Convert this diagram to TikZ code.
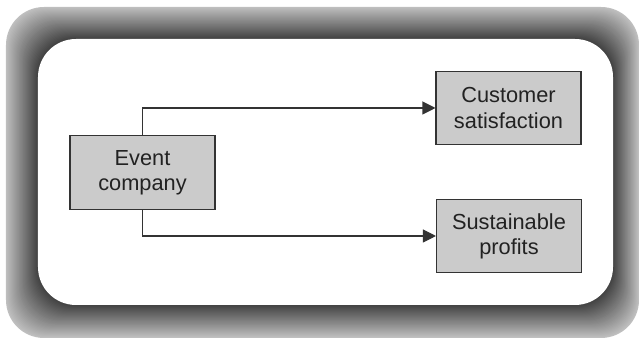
\documentclass[tikz,border=0pt]{standalone}
\usepackage{fontspec}
\setmainfont{Liberation Sans}
\usepackage{xcolor}
\usepackage{tikz}
\usetikzlibrary{positioning, arrows.meta}
\definecolor{bGray}{HTML}{CBCBCB}
\definecolor{bLine}{HTML}{333333}
\definecolor{tDark}{HTML}{222222}

\tikzset{
  goalbox/.style={draw=bLine, fill=bGray, line width=0.6pt, text=tDark, align=center,
    font=\fontsize{12.4}{14.3}\selectfont, minimum width=2.9cm, minimum height=1.47cm},
  link/.style={draw=bLine, line width=0.6pt, -{Triangle[length=0.26cm,width=0.26cm]}}
}

\begin{document}
\begin{tikzpicture}
  \useasboundingbox (0,0) rectangle (12.78,6.76);
  % shaded frame
  \foreach \i in {0,...,32}{
    \pgfmathsetmacro{\t}{\i/32}
    \pgfmathsetmacro{\shade}{25+50*\t}
    \fill[black!\shade, rounded corners=0.76cm]
      ({0.12+0.64*\t},{0.66*\t}) rectangle ({12.78-0.52*\t},{6.62-0.64*\t});
  }
  \fill[white, rounded corners=0.76cm] (0.76,0.66) rectangle (12.26,5.98);

  \node[goalbox] (event) at (2.85,3.31) {Event\\company};
  \node[goalbox] (cust) at (10.17,4.60) {Customer\\satisfaction};
  \node[goalbox] (profit) at (10.18,2.04) {Sustainable\\profits};

  \draw[link] (event.north) |- (cust.west);
  \draw[link] (event.south) |- (profit.west);
\end{tikzpicture}
\end{document}
